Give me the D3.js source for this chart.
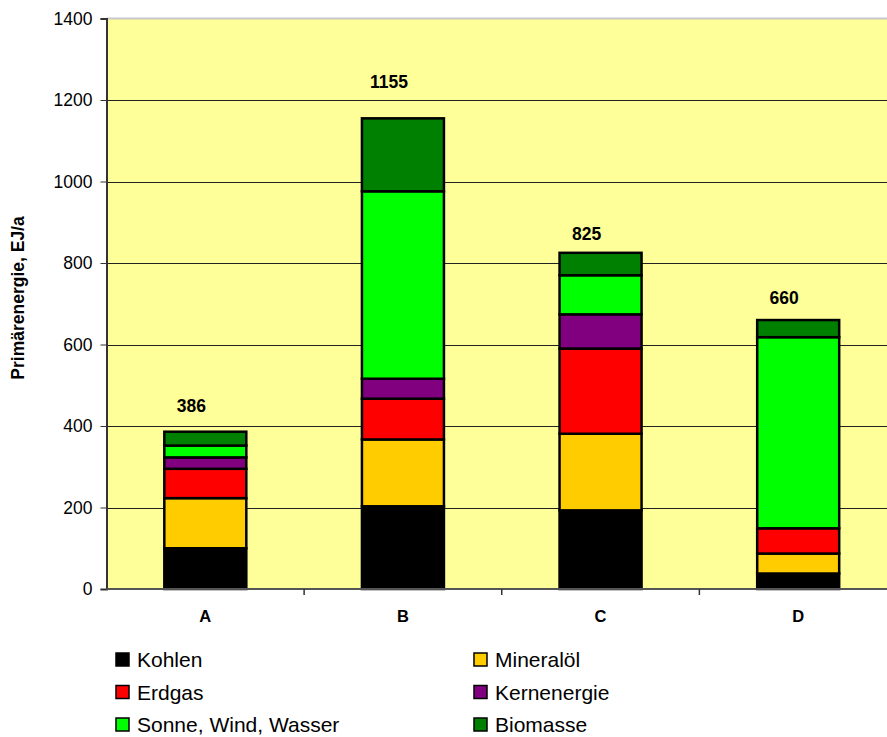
<!DOCTYPE html>
<html><head><meta charset="utf-8">
<script src="https://cdn.jsdelivr.net/npm/d3@7"></script>
<style>body{margin:0;background:#fff}svg{display:block;font-family:"Liberation Sans",Arial,sans-serif}</style>
</head><body><svg id="c" width="887" height="737"></svg>
<script>
const categories = ["A","B","C","D"];
const seriesNames = ["Kohlen","Mineralöl","Erdgas","Kernenergie","Sonne, Wind, Wasser","Biomasse"];
const seriesColors = ["#000000","#FFCC00","#FF0000","#800080","#00FF00","#008000"];
const kohlen      = [100, 203, 193, 38];
const mineraloel  = [123, 164, 188, 49];
const erdgas      = [72, 100, 209, 62];
const kernenergie = [28, 49, 84, 0];
const sonne       = [29, 460, 96, 469];
const biomasse    = [34, 179, 55, 42];
const totals      = [386, 1155, 825, 660];
const yTicks      = [0,200,400,600,800,1000,1200,1400];

const series = [kohlen, mineraloel, erdgas, kernenergie, sonne, biomasse];
const data = categories.map((c,i)=>{const o={cat:c}; seriesNames.forEach((s,j)=>o[s]=series[j][i]); return o;});
const stacked = d3.stack().keys(seriesNames)(data);

const svg = d3.select("#c");
const L=106.5, T=18.5, B=589, R=897;
const x = d3.scaleBand().domain(categories).range([L,R]).paddingInner(0.58).paddingOuter(0.29);
const y = d3.scaleLinear().domain([0,1400]).range([B,T]);

svg.append("rect").attr("x",L).attr("y",T).attr("width",R-L).attr("height",B-T).attr("fill","#FFFF99");
svg.append("line").attr("x1",L).attr("x2",R).attr("y1",T).attr("y2",T).attr("stroke","#c8c8c8").attr("stroke-width",2);
svg.append("g").selectAll("line").data(yTicks.filter(t=>t>0&&t<1400)).join("line")
  .attr("x1",L).attr("x2",R).attr("y1",d=>Math.round(y(d))+0.5).attr("y2",d=>Math.round(y(d))+0.5)
  .attr("stroke","#222").attr("stroke-width",1);

const bw = 82;
svg.append("g").selectAll("g").data(stacked).join("g")
  .attr("fill",(d,i)=>seriesColors[i])
  .selectAll("rect").data(d=>d.filter(p=>p[1]-p[0]>0)).join("rect")
  .attr("x",d=>x(d.data.cat)+x.bandwidth()/2-bw/2).attr("width",bw)
  .attr("y",d=>y(d[1])).attr("height",d=>y(d[0])-y(d[1]))
  .attr("stroke","#000").attr("stroke-width",2.5);

// axes
const ya = svg.append("g").attr("transform",`translate(${L},0)`)
  .call(d3.axisLeft(y).tickValues(yTicks).tickSize(6).tickPadding(8).tickFormat(d3.format("d")));
ya.select(".domain").attr("stroke","#333").attr("stroke-width",2);
ya.selectAll(".tick line").attr("stroke","#333");
ya.selectAll("text").attr("font-size",17.5).attr("fill","#000").attr("font-family","Liberation Sans, Arial, sans-serif");

svg.append("line").attr("x1",L).attr("x2",R).attr("y1",B).attr("y2",B).attr("stroke","#555").attr("stroke-width",2);
const xa = svg.append("g").attr("transform",`translate(0,${B})`)
  .call(d3.axisBottom(x).tickSize(0).tickPadding(21));
xa.select(".domain").remove();
xa.selectAll("text").attr("font-size",16.5).attr("font-weight","bold").attr("fill","#000").attr("font-family","Liberation Sans, Arial, sans-serif");
const step = x.step();
svg.append("g").selectAll("line").data(categories.slice(1)).join("line")
  .attr("x1",d=>x(d)-x.paddingInner()*step/2).attr("x2",d=>x(d)-x.paddingInner()*step/2)
  .attr("y1",B).attr("y2",B+6).attr("stroke","#333").attr("stroke-width",1.5);

// total labels
const labelDy = [20, 30, 13, 16];
svg.append("g").selectAll("text").data(totals).join("text")
  .attr("x",(d,i)=>x(categories[i])+x.bandwidth()/2-14).attr("y",(d,i)=>y(d)-labelDy[i])
  .attr("text-anchor","middle").attr("font-size",17.5).attr("font-weight","bold").text(d=>d);

// y title
svg.append("text").attr("transform","translate(24,298) rotate(-90)").attr("text-anchor","middle")
  .attr("font-size",17.5).attr("font-weight","bold").text("Primärenergie, EJ/a");

// legend
const lg = svg.append("g").selectAll("g").data(seriesNames).join("g")
  .attr("transform",(d,i)=>`translate(${116 + (i%2)*358},${653 + Math.floor(i/2)*32.5})`);
lg.append("rect").attr("width",13).attr("height",13).attr("fill",(d,i)=>seriesColors[i]).attr("stroke","#000").attr("stroke-width",1.5);
lg.append("text").attr("x",21).attr("y",14).attr("font-size",21).text(d=>d);
</script></body></html>
